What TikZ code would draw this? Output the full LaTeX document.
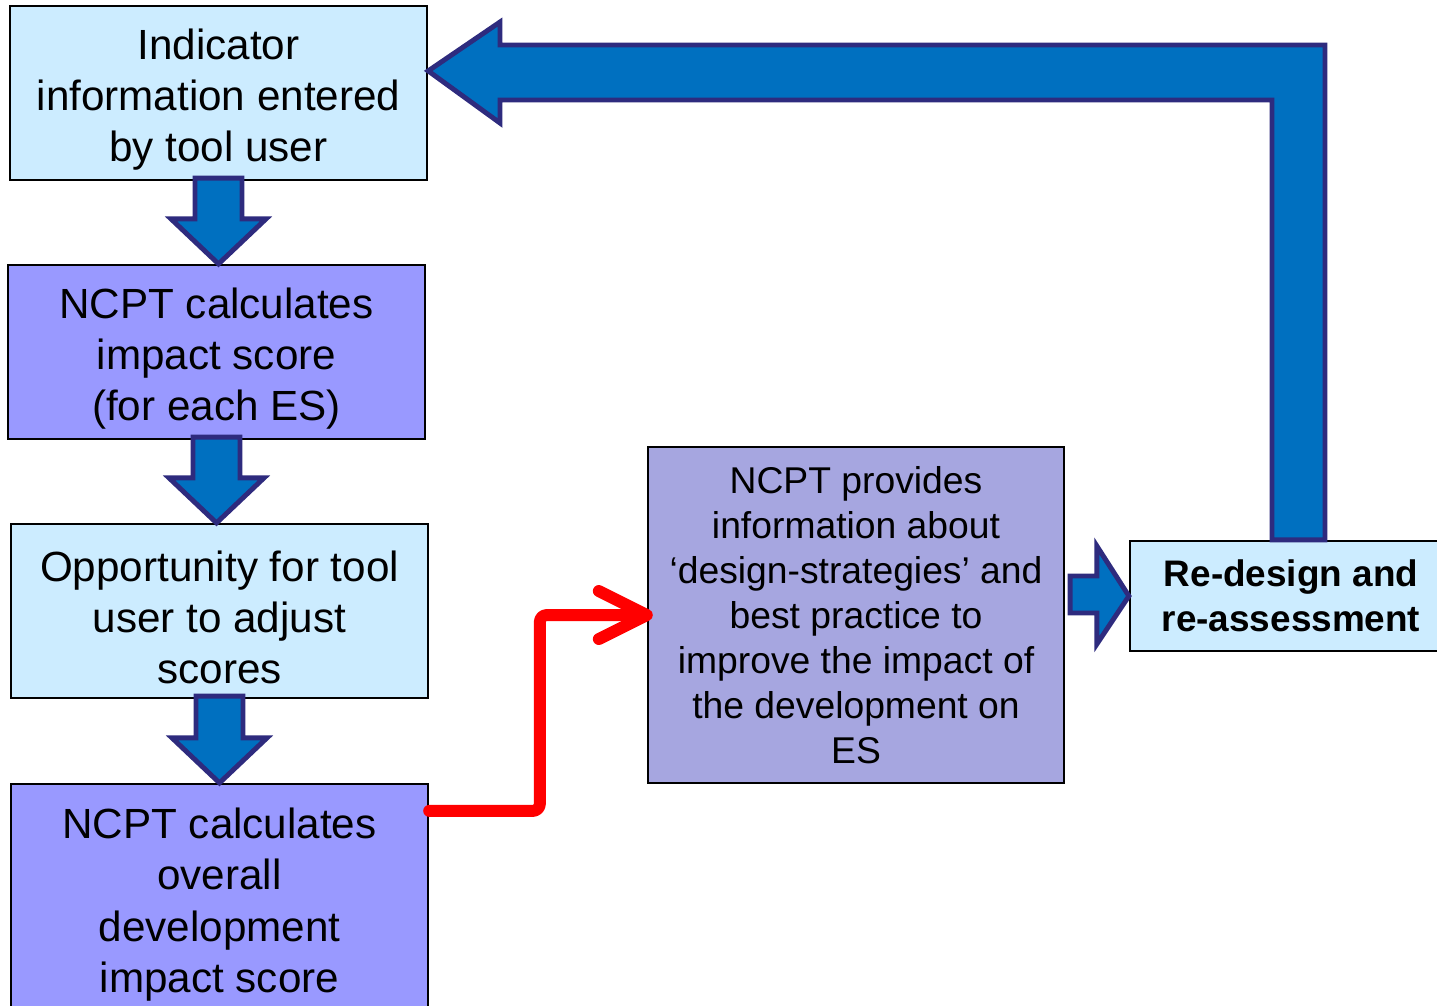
\documentclass[tikz,border=0pt]{standalone}
\usepackage{fontspec}
\setmainfont{Liberation Sans}
\usepackage{xcolor}
\usetikzlibrary{calc}
\definecolor{paleblue}{HTML}{CCECFF}
\definecolor{lilac}{HTML}{9999FF}
\definecolor{softlilac}{HTML}{A6A6E0}
\definecolor{arrowblue}{HTML}{0070C0}
\definecolor{arrowedge}{HTML}{2E2B7E}

\tikzset{
  stagebox/.style={draw=black, line width=0.6pt, align=center, inner sep=0pt,
    minimum width=4.17cm, minimum height=1.74cm, font=\fontsize{12}{14.6}\selectfont},
  blockarrow/.style={fill=arrowblue, draw=arrowedge, line width=1.4pt, line join=miter},
  redline/.style={draw=red, line width=3.4pt, line cap=round, line join=round}
}
% a little extra room over the first line
\newcommand{\topgap}{\rule{0pt}{12.35pt}}

% downward block arrow from one box to the next
\newcommand{\dropblock}[2]{%
  \coordinate (tip) at (#1.south |- #2.north);
  \draw[blockarrow] ($(#1.south)+(-23.5,-3)$) -- ($(#1.south)+(23.5,-3)$)
    -- ($(tip)+(23.5,-45)$) -- ($(tip)+(47.5,-45)$) -- (tip)
    -- ($(tip)+(-47.5,-45)$) -- ($(tip)+(-23.5,-45)$) -- cycle;}

\begin{document}
\begin{tikzpicture}[x=0.01cm, y=-0.01cm]
\useasboundingbox (0,0) rectangle (1437,1005);

% left column
\node[stagebox, fill=paleblue] (ind) at (218.5,93)
  {\topgap Indicator\\information entered\\by tool user};
\node[stagebox, fill=lilac] (impact) at (216.5,352)
  {\topgap NCPT calculates\\impact score\\(for each ES)};
\node[stagebox, fill=paleblue] (adjust) at (219.5,611)
  {\topgap Opportunity for tool\\user to adjust\\scores};
\node[stagebox, fill=lilac, minimum height=2.28cm] (overall) at (219.5,898)
  {\topgap NCPT calculates\\overall\\development\\impact score};

% strategies and redesign
\node[stagebox, fill=softlilac, minimum width=4.16cm, minimum height=3.36cm,
  font=\fontsize{10.6}{12.8}\selectfont] (strat) at (856,615)
  {NCPT provides\\information about\\‘design-strategies’ and\\best practice to\\improve the impact of\\the development on\\ES};
\node[stagebox, fill=paleblue, minimum width=3.22cm, minimum height=1.10cm,
  font=\bfseries\fontsize{10.5}{12.8}\selectfont] (redesign) at (1291,596)
  {Re-design and\\re-assessment};

% arrows down the column
\dropblock{ind}{impact}
\dropblock{impact}{adjust}
\dropblock{adjust}{overall}

% red link to strategies
\coordinate (rs) at ($(overall.north east)+(0,28)$);
\draw[redline, rounded corners=2pt] (rs) -| ($(strat.west)+(-107,0)$) -- ($(strat.west)+(-3,0)$);
\draw[redline] ($(strat.west)+(-48,-24)$) -- (strat.west) -- ($(strat.west)+(-48,24)$);

% block arrow into redesign
\coordinate (rtip) at (redesign.west);
\draw[blockarrow] ($(strat.east |- rtip)+(5,-20)$) -- ($(rtip)+(-32,-20)$)
  -- ($(rtip)+(-32,-50)$) -- (rtip) -- ($(rtip)+(-32,48)$)
  -- ($(rtip)+(-32,17)$) -- ($(strat.east |- rtip)+(5,17)$) -- cycle;

% feedback arrow back to the top
\draw[blockarrow] ($(redesign.north)+(-19,0)$) |- (500,100) -- (500,123)
  -- ($(ind.north east)+(0,66)$) -- (500,22) -- (500,45)
  -| ($(redesign.north)+(34,0)$) -- cycle;
\end{tikzpicture}
\end{document}
